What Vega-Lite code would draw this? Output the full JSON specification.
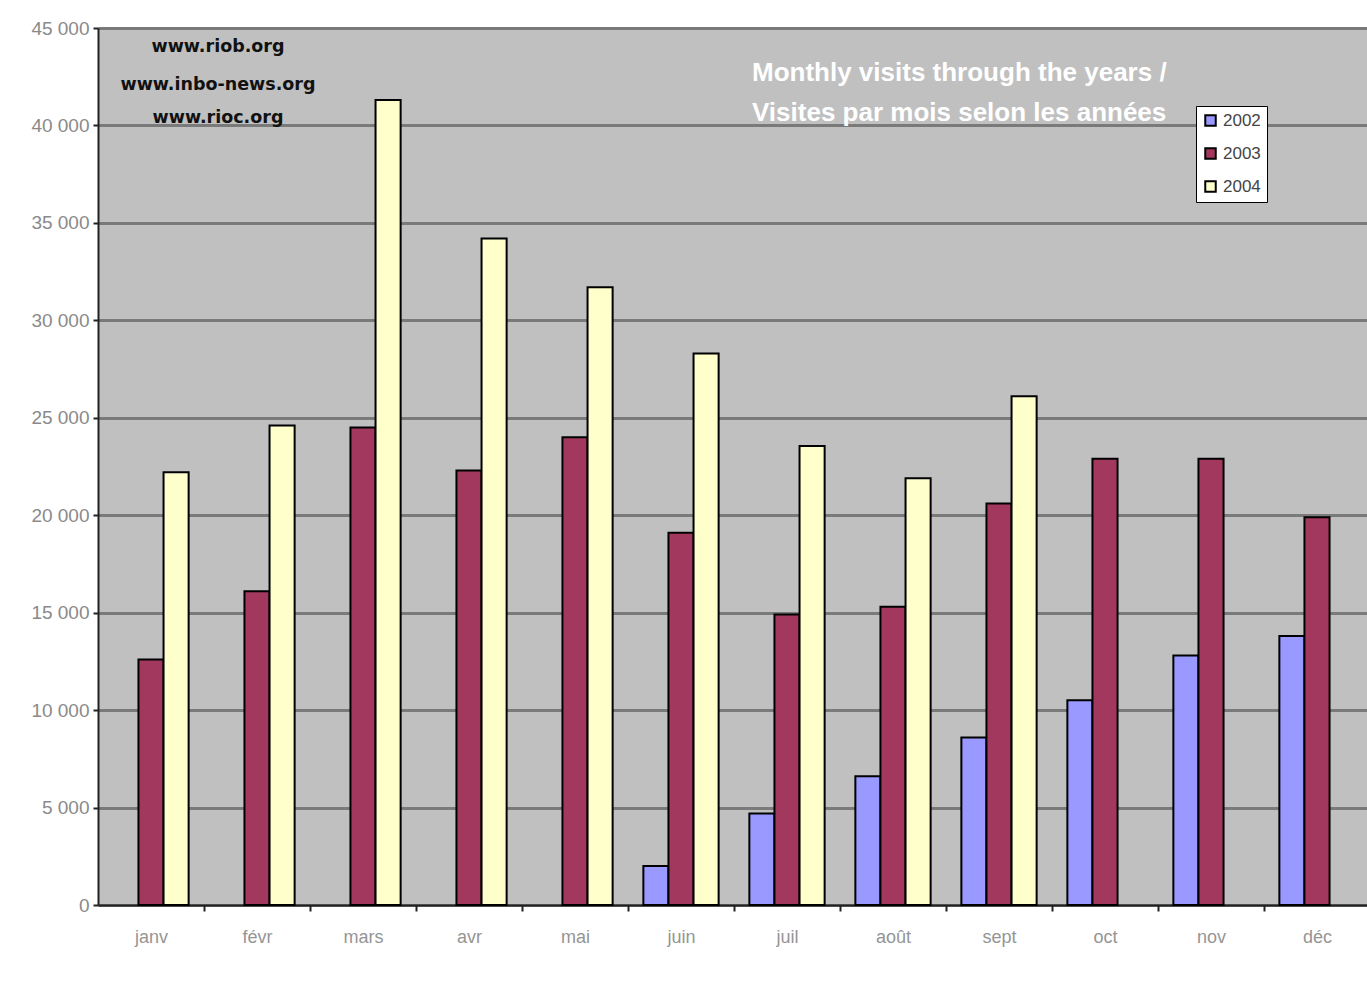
{
  "$schema": "https://vega.github.io/schema/vega-lite/v6.json",
  "width": 1272,
  "height": 877,
  "autosize": {"type": "none"},
  "padding": {"left": 98, "top": 28, "right": 0, "bottom": 78},
  "background": "#ffffff",
  "config": {
    "view": {"fill": "#c0c0c0", "stroke": null},
    "font": "Liberation Sans"
  },
  "datasets": {
    "visits": [
      {"month": "janv", "year": "2003", "visits": 12600},
      {"month": "janv", "year": "2004", "visits": 22200},
      {"month": "févr", "year": "2003", "visits": 16100},
      {"month": "févr", "year": "2004", "visits": 24600},
      {"month": "mars", "year": "2003", "visits": 24500},
      {"month": "mars", "year": "2004", "visits": 41300},
      {"month": "avr", "year": "2003", "visits": 22300},
      {"month": "avr", "year": "2004", "visits": 34200},
      {"month": "mai", "year": "2003", "visits": 24000},
      {"month": "mai", "year": "2004", "visits": 31700},
      {"month": "juin", "year": "2002", "visits": 2000},
      {"month": "juin", "year": "2003", "visits": 19100},
      {"month": "juin", "year": "2004", "visits": 28300},
      {"month": "juil", "year": "2002", "visits": 4700},
      {"month": "juil", "year": "2003", "visits": 14900},
      {"month": "juil", "year": "2004", "visits": 23550},
      {"month": "août", "year": "2002", "visits": 6600},
      {"month": "août", "year": "2003", "visits": 15300},
      {"month": "août", "year": "2004", "visits": 21900},
      {"month": "sept", "year": "2002", "visits": 8600},
      {"month": "sept", "year": "2003", "visits": 20600},
      {"month": "sept", "year": "2004", "visits": 26100},
      {"month": "oct", "year": "2002", "visits": 10500},
      {"month": "oct", "year": "2003", "visits": 22900},
      {"month": "nov", "year": "2002", "visits": 12800},
      {"month": "nov", "year": "2003", "visits": 22900},
      {"month": "déc", "year": "2002", "visits": 13800},
      {"month": "déc", "year": "2003", "visits": 19900}
    ],
    "sites": [
      {"label": "www.riob.org", "month": "janv", "pos": 44000},
      {"label": "www.inbo-news.org", "month": "janv", "pos": 42100},
      {"label": "www.rioc.org", "month": "janv", "pos": 40400}
    ],
    "titles": [
      {"label": "Monthly visits through the years /", "month": "juil", "pos": 42690},
      {"label": "Visites par mois selon les années", "month": "juil", "pos": 40640}
    ]
  },
  "layer": [
    {
      "data": {"name": "visits"},
      "mark": {"type": "bar", "stroke": "#000000", "strokeWidth": 2},
      "encoding": {
        "x": {
          "field": "month",
          "type": "nominal",
          "sort": ["janv", "févr", "mars", "avr", "mai", "juin", "juil", "août", "sept", "oct", "nov", "déc"],
          "scale": {"paddingInner": 0.29, "paddingOuter": 0.145},
          "axis": {
            "title": null,
            "labelAngle": 0,
            "domainColor": "#222222",
            "domainWidth": 2,
            "ticks": true,
            "tickBand": "center",
            "tickOffset": 53,
            "labelOffset": -53,
            "tickSize": 6,
            "tickColor": "#222222",
            "tickWidth": 2,
            "labelColor": "#959595",
            "labelFontSize": 18,
            "labelPadding": 17,
            "grid": false
          }
        },
        "xOffset": {
          "field": "year",
          "type": "nominal",
          "scale": {"domain": ["2002", "2003", "2004"], "paddingInner": 0, "paddingOuter": 0}
        },
        "y": {
          "field": "visits",
          "type": "quantitative",
          "scale": {"domain": [0, 45000], "nice": false},
          "axis": {
            "title": null,
            "values": [0, 5000, 10000, 15000, 20000, 25000, 30000, 35000, 40000, 45000],
            "labelExpr": "replace(format(datum.value, ','), ',', ' ')",
            "domainColor": "#222222",
            "domainWidth": 2,
            "tickColor": "#222222",
            "tickSize": 5,
            "tickWidth": 2,
            "labelColor": "#8a8a8a",
            "labelFontSize": 19,
            "labelPadding": 4,
            "grid": true,
            "gridColor": "#7a7a7a",
            "gridWidth": 3
          }
        },
        "color": {
          "field": "year",
          "type": "nominal",
          "scale": {"domain": ["2002", "2003", "2004"], "range": ["#9999ff", "#a3385f", "#ffffcc"]},
          "legend": {
            "title": null,
            "orient": "none",
            "legendX": 1098,
            "legendY": 78,
            "fillColor": "#ffffff",
            "strokeColor": "#000000",
            "padding": 6,
            "cornerRadius": 0,
            "symbolType": "square",
            "symbolSize": 110,
            "symbolStrokeColor": "#000000",
            "symbolStrokeWidth": 2,
            "labelFontSize": 17,
            "labelColor": "#444444",
            "rowPadding": 14
          }
        }
      }
    },
    {
      "data": {"name": "sites"},
      "mark": {"type": "text", "font": "DejaVu Sans", "fontWeight": "bold", "fontSize": 17.5, "align": "center", "baseline": "middle", "dx": 67, "color": "#111111"},
      "encoding": {
        "x": {"field": "month", "type": "nominal", "sort": ["janv", "févr", "mars", "avr", "mai", "juin", "juil", "août", "sept", "oct", "nov", "déc"]},
        "y": {"field": "pos", "type": "quantitative"},
        "text": {"field": "label"}
      }
    },
    {
      "data": {"name": "titles"},
      "mark": {"type": "text", "font": "Liberation Sans", "fontWeight": "bold", "fontSize": 26, "align": "left", "baseline": "middle", "dx": -35, "color": "#ffffff"},
      "encoding": {
        "x": {"field": "month", "type": "nominal", "sort": ["janv", "févr", "mars", "avr", "mai", "juin", "juil", "août", "sept", "oct", "nov", "déc"]},
        "y": {"field": "pos", "type": "quantitative"},
        "text": {"field": "label"}
      }
    }
  ]
}
